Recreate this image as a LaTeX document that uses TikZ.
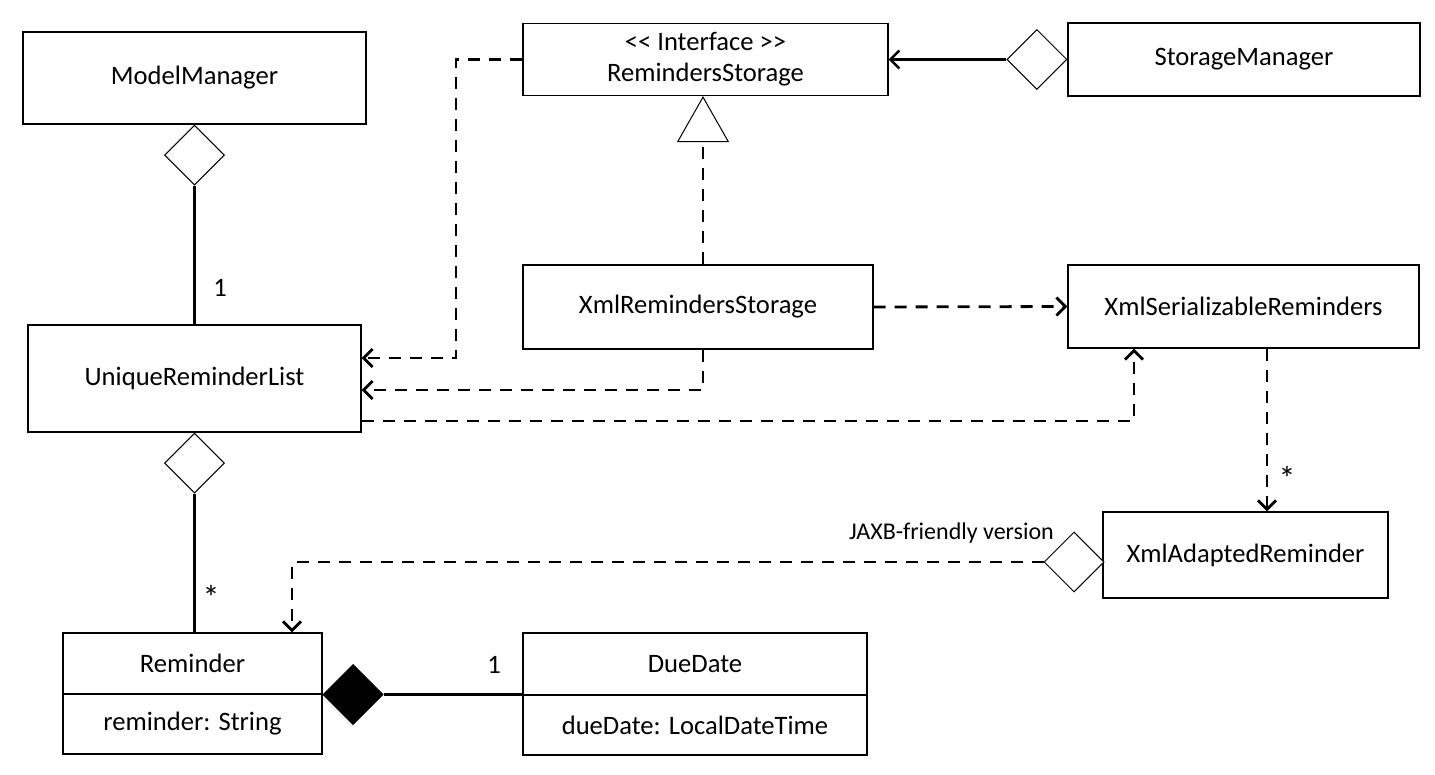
\documentclass[tikz,border=0pt]{standalone}
\usepackage{fontspec}
\setmainfont{Carlito}
\usetikzlibrary{shapes.geometric,arrows.meta}

\begin{document}
\begin{tikzpicture}[
    x=0.5pt, y=-0.5pt,
    cls/.style={rectangle, draw, line width=0.6pt, fill=white, inner sep=0pt, align=center, font=\fontsize{13.3}{15.5}\selectfont},
    agg/.style={diamond, draw, line width=0.5pt, fill=white, inner sep=0pt, minimum width=30pt, minimum height=30pt},
    comp/.style={agg, fill=black},
    mult/.style={font=\fontsize{13.3}{15.5}\selectfont},
    star/.style={font=\fontsize{17}{18}\selectfont},
    assoc/.style={line width=1.2pt},
    barb/.style={-{Straight Barb[length=4.5pt,width=9pt]}},
    dep/.style={line width=1.4pt, dash pattern=on 6pt off 4.5pt, barb},
    gen/.style={line width=1.4pt, dash pattern=on 6pt off 4.5pt, -{Triangle[open, length=23pt, width=26pt, line width=0.5pt]}}
]
    \useasboundingbox (0,0) rectangle (1435,775);

    \node[cls, minimum width=171.5pt, minimum height=46pt] (mm) at (194.5,78) {ModelManager};
    \node[cls, minimum width=166.5pt, minimum height=53.5pt] (url) at (194.5,378.5) {UniqueReminderList};
    \node[cls, minimum width=129.5pt, minimum height=30.5pt] (rem) at (192.5,663.5) {Reminder};
    \node[cls, minimum width=129.5pt, minimum height=30pt] (remattr) at (192.5,724) {reminder: String};
    \node[cls, minimum width=172pt, minimum height=31pt] (due) at (695,664) {DueDate};
    \node[cls, minimum width=172pt, minimum height=30pt] (dueattr) at (695,725) {dueDate: LocalDateTime};
    \node[cls, minimum width=182.5pt, minimum height=36pt] (rs) at (705.5,59.5) {\rule{0pt}{9pt}<\kern0pt< Interface >\kern0pt>\\RemindersStorage};
    \node[cls, minimum width=176pt, minimum height=36.5pt] (sm) at (1244,59.5) {StorageManager};
    \node[cls, minimum width=175pt, minimum height=42pt] (xrs) at (698,307) {XmlRemindersStorage};
    \node[cls, minimum width=175.5pt, minimum height=41.5pt] (xsr) at (1243.5,306.5) {XmlSerializableReminders};
    \node[cls, minimum width=142.5pt, minimum height=43pt] (xar) at (1245.5,555) {XmlAdaptedReminder};

    \node[agg, anchor=north] (d1) at (mm.south) {};
    \node[agg, anchor=north] (d2) at (url.south) {};
    \node[agg, anchor=east] (d3) at (sm.west) {};
    \node[agg] (d4) at (1074,562) {};
    \node[comp, anchor=west] (d5) at (rem.south east) {};

    \node[mult] (m1) at (220,288) {1};
    \node[star] (m2) at (211,597) {*};
    \node[mult] (m3) at (494,665) {1};
    \node[star] (m4) at (1287,478) {*};
    \node[font=\fontsize{12}{14}\selectfont] (jaxb) at (951.5,533) {JAXB-friendly version};

    \coordinate (g) at (703,0);
    \coordinate (c1) at (456,358);
    \coordinate (c2) at (703,390);
    \coordinate (c3) at (1134,421);
    \coordinate (c4) at (1267,0);
    \coordinate (c5) at (292,562);

    \draw[assoc] (d1.south) -- (url.north);
    \draw[assoc] (d2.south) -- (d2.south |- rem.north);
    \draw[assoc] (d5.east) -- (d5.east -| due.west);
    \draw[assoc, barb] (d3.west) -- (d3.west -| rs.east);
    \draw[gen] (xrs.north -| g) -- (rs.south -| g);
    \draw[dep] (rs.west) -| (c1) -- (c1 -| url.east);
    \draw[dep] (xrs.south -| c2) -- (c2) -- (c2 -| url.east);
    \draw[dep] (xrs.east) -- (xsr.west);
    \draw[dep] (c3 -| url.east) -- (c3) -- (c3 |- xsr.south);
    \draw[dep] (xsr.south -| c4) -- (xar.north -| c4);
    \draw[dep] (d4.west) -- (c5) -- (c5 |- rem.north);
\end{tikzpicture}
\end{document}
